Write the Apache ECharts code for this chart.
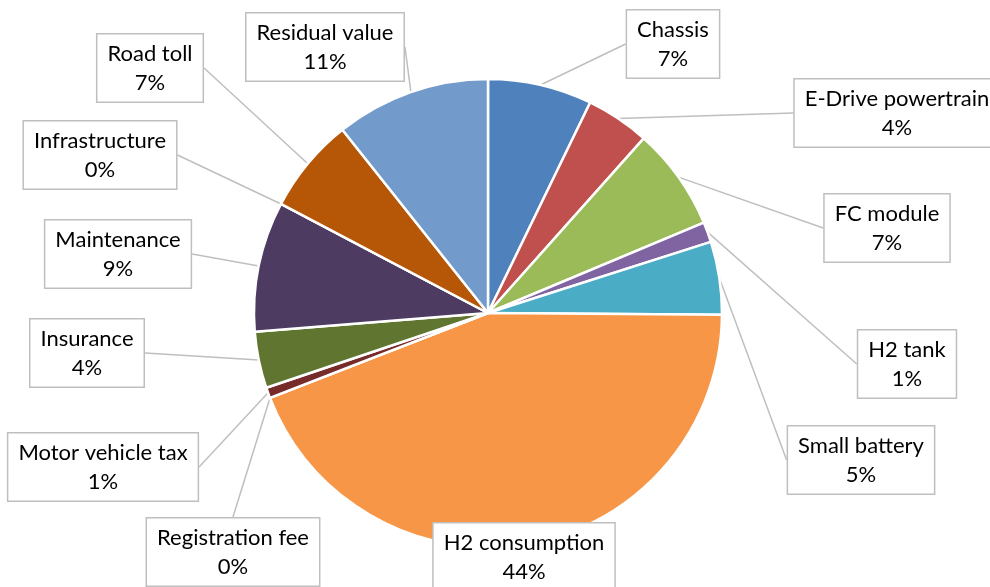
<!DOCTYPE html>
<html>
<head>
<meta charset="utf-8">
<script src="https://cdn.jsdelivr.net/npm/echarts@6/dist/echarts.min.js"></script>
<style>
  html, body { margin: 0; padding: 0; background: #fff; }
  #tco-pie-chart { width: 990px; height: 587px; }
</style>
</head>
<body>
<div id="tco-pie-chart"></div>
<script>
// cost components, clockwise from 12 o'clock
const categories = [
  "Chassis", "E-Drive powertrain", "FC module", "H2 tank", "Small battery",
  "H2 consumption", "Registration fee", "Motor vehicle tax", "Insurance",
  "Maintenance", "Infrastructure", "Road toll", "Residual value"
];
// share of total cost (%)
const shares = [7.2, 4.4, 7.1, 1.4, 5.05, 44.0, 0, 0.74, 3.9, 9.0, 0, 6.6, 10.7];

const colors = [
  "#4f81bd", "#c0504d", "#9bbb59", "#8064a2", "#4bacc6", "#f79646",
  "#2c4d75", "#772c2a", "#5f7530", "#4d3b62", "#276a7c", "#b65708", "#729aca"
];

// callout box centres (px)
const labelPos = [
  [673, 44], [897, 113], [887, 228], [907, 364], [861, 460],
  [524, 557], [233, 552], [103, 467], [87, 353], [118, 254],
  [100, 155], [150, 68], [325, 47]
];

let chart = echarts.init(document.getElementById("tco-pie-chart"));

let option = {
  animation: false,
  color: colors,
  series: [
    {
      type: "pie",
      center: [488, 313],
      radius: 234,
      startAngle: 90,
      clockwise: true,
      avoidLabelOverlap: false,
      data: categories.map((name, i) => ({ name: name, value: shares[i] })),
      itemStyle: {
        borderColor: "#fff",
        borderWidth: 2.5
      },
      label: {
        show: true,
        position: "outside",
        formatter: function(p) {
          return p.name + "\n" + Math.round(p.percent) + "%";
        },
        fontFamily: "Lato",
        fontSize: 22,
        lineHeight: 29,
        color: "#000",
        backgroundColor: "#fff",
        borderColor: "#bfbfbf",
        borderWidth: 1.5,
        padding: [5, 10, 4, 10]
      },
      labelLine: {
        show: true,
        length: 10,
        length2: 0,
        lineStyle: {
          color: "#bfbfbf",
          width: 1.5
        }
      },
      labelLayout: function(params) {
        const pos = labelPos[params.dataIndex];
        return {
          x: pos[0],
          y: pos[1],
          align: "center",
          verticalAlign: "middle"
        };
      },
      emphasis: { disabled: true }
    }
  ]
};

chart.setOption(option);
</script>
</body>
</html>
